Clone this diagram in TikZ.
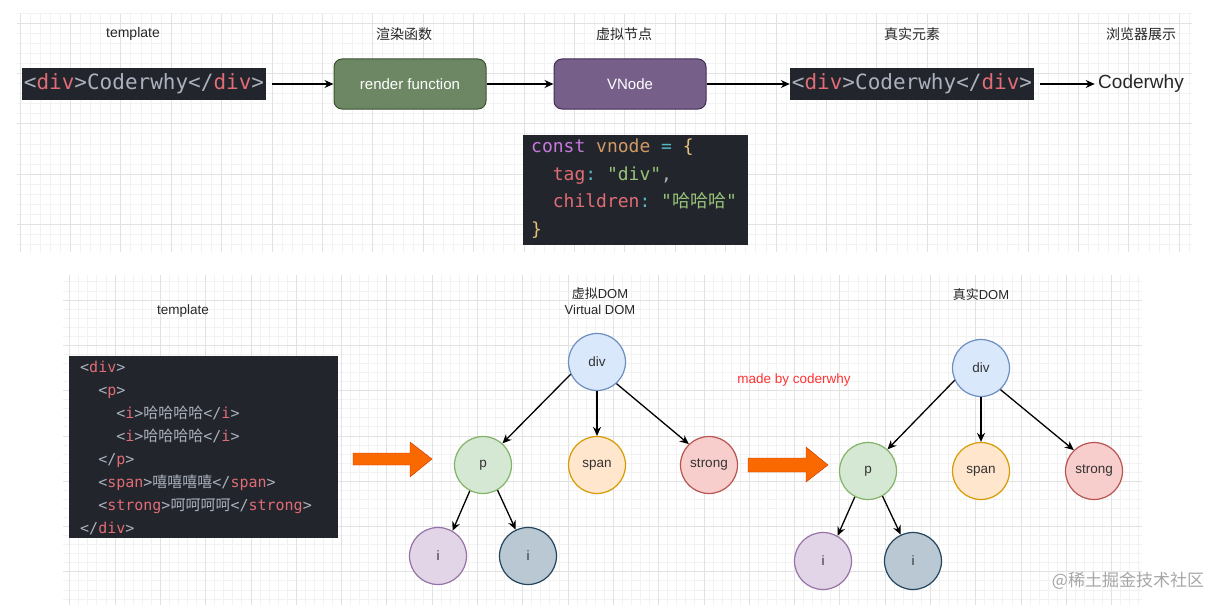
\documentclass[tikz,border=0pt]{standalone}
\usepackage{fontspec}
\setmainfont{Liberation Sans}
\setsansfont{Liberation Sans}
\setmonofont{DejaVu Sans Mono}
\newfontfamily\cjk{Noto Sans CJK SC}
\usetikzlibrary{arrows.meta, positioning, calc}

\definecolor{codebg}{HTML}{22252B}
\definecolor{codetxt}{HTML}{ABB2BF}
\definecolor{codered}{HTML}{E06C75}
\definecolor{codepur}{HTML}{C678DD}
\definecolor{codeorg}{HTML}{D19A66}
\definecolor{codecyn}{HTML}{56B6C2}
\definecolor{codeyel}{HTML}{E5C07B}
\definecolor{codegrn}{HTML}{98C379}
\definecolor{gridmin}{HTML}{F2F2F2}
\definecolor{gridmaj}{HTML}{E2E2E2}
\definecolor{rfill}{HTML}{6D8764}
\definecolor{rline}{HTML}{3A5431}
\definecolor{vfill}{HTML}{76608A}
\definecolor{vline}{HTML}{432D57}
\definecolor{blufill}{HTML}{DAE8FC}
\definecolor{bluline}{HTML}{6C8EBF}
\definecolor{grnfill}{HTML}{D5E8D4}
\definecolor{grnline}{HTML}{82B366}
\definecolor{orgfill}{HTML}{FFE6CC}
\definecolor{orgline}{HTML}{D79B00}
\definecolor{redfill}{HTML}{F8CECC}
\definecolor{redline}{HTML}{B85450}
\definecolor{purfill}{HTML}{E1D5E7}
\definecolor{purline}{HTML}{9673A6}
\definecolor{gryfill}{HTML}{BAC8D3}
\definecolor{gryline}{HTML}{23445D}
\definecolor{bigarrow}{HTML}{FA6800}
\definecolor{bigarrowline}{HTML}{C73500}
\definecolor{madered}{HTML}{FF3333}

% code colouring
\newcommand{\tg}[1]{\textcolor{codered}{#1}}
\newcommand{\cjktxt}[1]{{\cjk #1}}

\begin{document}
\begin{tikzpicture}[x=1pt, y=-1pt, >={Stealth[length=9pt,width=8pt]},
    heading/.style={font=\fontsize{14}{16}\selectfont, text=black!85},
    codebox/.style={fill=codebg, inner sep=0pt},
    codetext/.style={inner sep=0pt, align=left, text=codetxt},
    fnbox/.style={rounded corners=8pt, minimum width=152pt, minimum height=50pt,
      line width=1pt, text=white, font=\fontsize{15}{17}\selectfont},
    dom/.style={circle, minimum size=57pt, inner sep=0pt, line width=1.2pt,
      font=\fontsize{13.5}{15}\selectfont, text=black!80},
    flow/.style={->, line width=1.3pt}]
    \useasboundingbox (0,0) rectangle (1226,610);

    % grids
    \begin{scope}
    \clip (17,14) rectangle (1192,252);
    \foreach \i in {0,...,117} \draw[gridmin, line width=0.8pt] ({20+10.08*\i},14) -- ++(0,238);
    \foreach \j in {-1,...,23} \draw[gridmin, line width=0.8pt] (17,{23+10.08*\j}) -- ++(1175,0);
    \foreach \i in {0,...,23} \draw[gridmaj, line width=0.8pt] ({20+50.4*\i},14) -- ++(0,238);
    \foreach \j in {0,...,4} \draw[gridmaj, line width=0.8pt] (17,{23+50.4*\j}) -- ++(1175,0);
    \end{scope}
    \begin{scope}
    \clip (63,275) rectangle (1142,605);
    \foreach \i in {-6,...,113} \draw[gridmin, line width=0.8pt] ({115+9.06*\i},275) -- ++(0,330);
    \foreach \j in {-3,...,33} \draw[gridmin, line width=0.8pt] (63,{300+9.06*\j}) -- ++(1079,0);
    \foreach \i in {-1,...,22} \draw[gridmaj, line width=0.8pt] ({115+45.3*\i},275) -- ++(0,330);
    \foreach \j in {0,...,6} \draw[gridmaj, line width=0.8pt] (63,{300+45.3*\j}) -- ++(1079,0);
    \end{scope}

    % top row
    \node[heading] (tplcap) at (133,34) {template};
    \node[heading] (rendercap) at (404,34) {\cjktxt{渲染函数}};
    \node[heading] (vnodecap) at (624,34) {\cjktxt{虚拟节点}};
    \node[heading] (realcap) at (912,34) {\cjktxt{真实元素}};
    \node[heading] (showcap) at (1141,34) {\cjktxt{浏览器展示}};

    \node[codebox, minimum width=244pt, minimum height=32pt, text=codetxt,
      font=\ttfamily\fontsize{21}{24}\selectfont] (tpl) at (144,84)
      {<\tg{div}>Coderwhy</\tg{div}>};
    \node[fnbox, fill=rfill, draw=rline] (render) at (410,84) {render function};
    \node[fnbox, fill=vfill, draw=vline] (vnode) at (630,84) {VNode};
    \node[codebox, minimum width=244pt, minimum height=32pt, text=codetxt,
      font=\ttfamily\fontsize{21}{24}\selectfont] (real) at (912,84)
      {<\tg{div}>Coderwhy</\tg{div}>};
    \node[font=\fontsize{19}{21}\selectfont, text=black!85] (show) at (1141,84) {Coderwhy};

    \draw[flow, shorten <=6pt] (tpl) -- (render);
    \draw[flow] (render) -- (vnode);
    \draw[flow] (vnode) -- (real);
    \draw[flow, shorten <=6pt] (real) -- (show);

    \node[codebox, minimum width=225pt, minimum height=110pt] (vnbox) at (635.5,189.5) {};
    \node[codetext, anchor=north west, font=\ttfamily\fontsize{18}{27.5}\selectfont] (vncode) at (531,139)
      {\textcolor{codepur}{const} \textcolor{codeorg}{vnode} \textcolor{codecyn}{=} \textcolor{codeyel}{\{}\\
       \phantom{xx}\tg{tag}\textcolor{codecyn}{:} \textcolor{codegrn}{"div"},\\
       \phantom{xx}\tg{children}\textcolor{codecyn}{:} \textcolor{codegrn}{"\cjktxt{哈哈哈}"}\\
       \textcolor{codeyel}{\}}};

    % bottom row
    \node[heading, font=\fontsize{13.5}{16}\selectfont] (tpl2cap) at (183,311) {template};
    \node[codebox, minimum width=269pt, minimum height=182pt] (tplbox) at (203.5,447) {};
    \node[codetext, anchor=north west, font=\ttfamily\fontsize{15}{23}\selectfont] (tplcode) at (80,361)
      {<\tg{div}>\\
       \phantom{xx}<\tg{p}>\\
       \phantom{xxxx}<\tg{i}>\cjktxt{哈哈哈哈}</\tg{i}>\\
       \phantom{xxxx}<\tg{i}>\cjktxt{哈哈哈哈}</\tg{i}>\\
       \phantom{xx}</\tg{p}>\\
       \phantom{xx}<\tg{span}>\cjktxt{嘻嘻嘻嘻}</\tg{span}>\\
       \phantom{xx}<\tg{strong}>\cjktxt{呵呵呵呵}</\tg{strong}>\\
       </\tg{div}>};

    \fill[bigarrow, draw=bigarrowline] (353,453) -- (410,453) -- (410,442) -- (432,459)
      -- (410,477) -- (410,465) -- (353,465) -- cycle;
    \fill[bigarrow, draw=bigarrowline] (748,458) -- (806,458) -- (806,447) -- (828,465)
      -- (806,482) -- (806,472) -- (748,472) -- cycle;

    % virtual DOM tree
    \node[heading, align=center, font=\fontsize{13}{16}\selectfont] (vdomcap) at (600,301)
      {\cjktxt{虚拟}DOM\\Virtual DOM};
    \node[dom, fill=blufill, draw=bluline] (div1) at (597,362) {div};
    \node[dom, fill=grnfill, draw=grnline] (p1) at (483,465) {p};
    \node[dom, fill=orgfill, draw=orgline] (span1) at (597,465) {span};
    \node[dom, fill=redfill, draw=redline] (strong1) at (709,465) {strong};
    \node[dom, fill=purfill, draw=purline] (ia1) at (438,556) {i};
    \node[dom, fill=gryfill, draw=gryline] (ib1) at (528,556) {i};
    \draw[flow] (div1.205) -- (p1.48);
    \draw[flow] (div1.south) -- (span1.north);
    \draw[flow] (div1.312) -- (strong1.134);
    \draw[flow] (p1.243) -- (ia1.60);
    \draw[flow] (p1.300) -- (ib1.115);

    \node[font=\fontsize{13.5}{16}\selectfont, text=madered] (made) at (794,380) {made by coderwhy};

    % real DOM tree
    \node[heading, font=\fontsize{13}{16}\selectfont] (rdomcap) at (981,295) {\cjktxt{真实}DOM};
    \node[dom, fill=blufill, draw=bluline] (div2) at (981,368) {div};
    \node[dom, fill=grnfill, draw=grnline] (p2) at (868,471) {p};
    \node[dom, fill=orgfill, draw=orgline] (span2) at (981,471) {span};
    \node[dom, fill=redfill, draw=redline] (strong2) at (1094,471) {strong};
    \node[dom, fill=purfill, draw=purline] (ia2) at (823,561) {i};
    \node[dom, fill=gryfill, draw=gryline] (ib2) at (913,561) {i};
    \draw[flow] (div2.205) -- (p2.48);
    \draw[flow] (div2.south) -- (span2.north);
    \draw[flow] (div2.312) -- (strong2.134);
    \draw[flow] (p2.243) -- (ia2.60);
    \draw[flow] (p2.300) -- (ib2.115);

    \node[font=\cjk\fontsize{17}{19}\selectfont, text=black!35] (mark) at (1128,581) {@稀土掘金技术社区};
\end{tikzpicture}
\end{document}
